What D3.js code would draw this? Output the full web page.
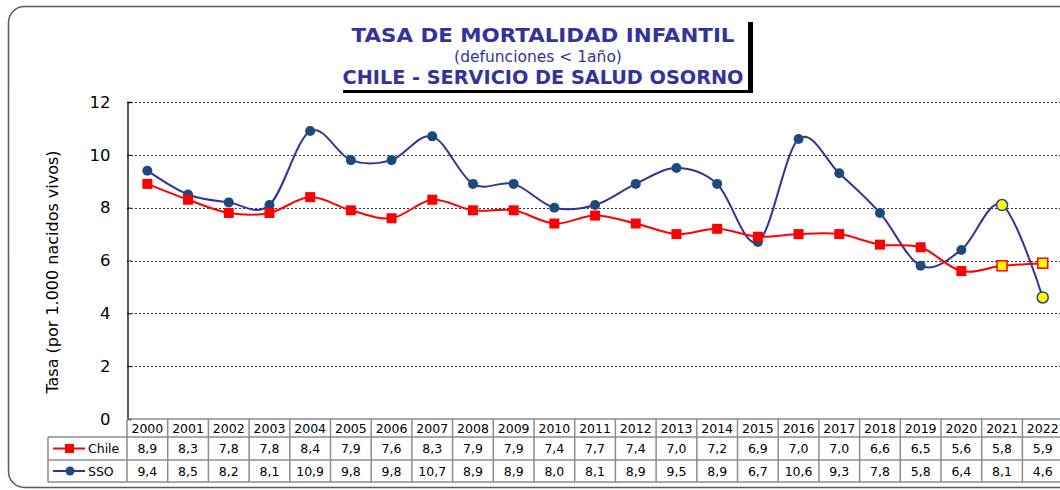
<!DOCTYPE html>
<html>
<head>
<meta charset="utf-8">
<script src="https://cdn.jsdelivr.net/npm/d3@7"></script>
<style>
  body { margin: 0; background: #fff; }
  svg { display: block; font-family: "DejaVu Sans", Verdana, sans-serif; }
</style>
</head>
<body>
<svg id="chart"></svg>
<script>
var width = 1060;
var height = 490;

// datos
var years = ["2000","2001","2002","2003","2004","2005","2006","2007","2008","2009","2010","2011",
             "2012","2013","2014","2015","2016","2017","2018","2019","2020","2021","2022"];
var chile = [8.9, 8.3, 7.8, 7.8, 8.4, 7.9, 7.6, 8.3, 7.9, 7.9, 7.4, 7.7, 7.4, 7.0, 7.2, 6.9, 7.0, 7.0, 6.6, 6.5, 5.6, 5.8, 5.9];
var sso   = [9.4, 8.5, 8.2, 8.1, 10.9, 9.8, 9.8, 10.7, 8.9, 8.9, 8.0, 8.1, 8.9, 9.5, 8.9, 6.7, 10.6, 9.3, 7.8, 5.8, 6.4, 8.1, 4.6];
var yTicks = [0, 2, 4, 6, 8, 10, 12];
var highlightYears = ["2021", "2022"];

var plotLeft = 127;
var colW = 40.7;
var plotTop = 102;
var plotBottom = 419;

var svg = d3.select("#chart")
    .attr("width", width)
    .attr("height", height);

// marco exterior
svg.append("rect")
    .attr("x", 8.5).attr("y", 6.5)
    .attr("width", 1120).attr("height", 481)
    .attr("rx", 16).attr("ry", 16)
    .attr("fill", "none")
    .attr("stroke", "#5a5a5a")
    .attr("stroke-width", 1.5);

// escalas
var x_scale = d3.scaleBand()
    .domain(years)
    .range([plotLeft, plotLeft + colW * years.length]);

var y_scale = d3.scaleLinear()
    .domain([0, 12])
    .range([plotBottom, plotTop]);

function cx(i) { return x_scale(years[i]) + x_scale.bandwidth() / 2; }

// grilla
svg.append("g")
    .selectAll("line")
    .data(yTicks.filter(function (d) { return d > 0; }))
    .join("line")
    .attr("x1", plotLeft).attr("x2", width)
    .attr("y1", function (d) { return Math.round(y_scale(d)) + 0.5; })
    .attr("y2", function (d) { return Math.round(y_scale(d)) + 0.5; })
    .attr("stroke", "#333")
    .attr("stroke-width", 1)
    .attr("stroke-dasharray", "2,2");

// eje Y
var y_axis = d3.axisLeft(y_scale).tickValues(yTicks).tickSize(-4).tickPadding(17);
var yg = svg.append("g")
    .attr("transform", "translate(" + (plotLeft + 0.5) + ",0)")
    .call(y_axis);
yg.select(".domain").attr("stroke", "#000").attr("stroke-width", 1.3);
yg.selectAll(".tick line").attr("stroke", "#000");
yg.selectAll(".tick text")
    .style("font-size", "16.5px")
    .style("font-family", "DejaVu Sans, sans-serif")
    .attr("fill", "#000");

svg.append("text")
    .text("Tasa (por 1.000 nacidos vivos)")
    .attr("transform", "translate(58,272) rotate(-90)")
    .attr("text-anchor", "middle")
    .style("font-size", "16px")
    .attr("fill", "#000");

// lineas
var lineChile = d3.line()
    .x(function (d, i) { return cx(i); })
    .y(function (d) { return y_scale(d); })
    .curve(d3.curveCardinal.tension(0));

svg.append("path")
    .attr("d", lineChile(sso))
    .attr("fill", "none")
    .attr("stroke", "#333399")
    .attr("stroke-width", 2);

svg.append("path")
    .attr("d", lineChile(chile))
    .attr("fill", "none")
    .attr("stroke", "#ff0000")
    .attr("stroke-width", 2);

// marcadores SSO
svg.append("g")
    .selectAll("circle")
    .data(sso)
    .join("circle")
    .attr("cx", function (d, i) { return cx(i); })
    .attr("cy", function (d) { return y_scale(d); })
    .attr("r", function (d, i) { return highlightYears.indexOf(years[i]) >= 0 ? 5.5 : 5; })
    .attr("fill", function (d, i) { return highlightYears.indexOf(years[i]) >= 0 ? "#ffff00" : "#1f497d"; })
    .attr("stroke", function (d, i) { return highlightYears.indexOf(years[i]) >= 0 ? "#1f497d" : "none"; })
    .attr("stroke-width", 1.5);

// marcadores Chile
svg.append("g")
    .selectAll("rect")
    .data(chile)
    .join("rect")
    .attr("x", function (d, i) { return cx(i) - 5; })
    .attr("y", function (d) { return y_scale(d) - 5; })
    .attr("width", 10).attr("height", 10)
    .attr("fill", function (d, i) { return highlightYears.indexOf(years[i]) >= 0 ? "#ffff00" : "#ff0000"; })
    .attr("stroke", function (d, i) { return highlightYears.indexOf(years[i]) >= 0 ? "#ff0000" : "none"; })
    .attr("stroke-width", 1.5);

// tabla de datos
var rowTops = [419, 437, 460, 482];
var tableRight = plotLeft + colW * years.length;
var legendLeft = 48;
var gridCol = "#8c8c8c";
var tbl = svg.append("g");

// lineas horizontales
tbl.append("line").attr("x1", plotLeft).attr("x2", tableRight)
    .attr("y1", rowTops[0]).attr("y2", rowTops[0]).attr("stroke", gridCol).attr("stroke-width", 1.5);
[1, 2, 3].forEach(function (k) {
    tbl.append("line").attr("x1", legendLeft).attr("x2", tableRight)
        .attr("y1", rowTops[k]).attr("y2", rowTops[k]).attr("stroke", gridCol).attr("stroke-width", 1.5);
});
// lineas verticales
tbl.append("line").attr("x1", legendLeft).attr("x2", legendLeft)
    .attr("y1", rowTops[1]).attr("y2", rowTops[3]).attr("stroke", gridCol).attr("stroke-width", 1.5);
tbl.selectAll("line.v")
    .data(years)
    .join("line")
    .attr("class", "v")
    .attr("x1", function (d) { return x_scale(d); })
    .attr("x2", function (d) { return x_scale(d); })
    .attr("y1", rowTops[0]).attr("y2", rowTops[3])
    .attr("stroke", gridCol).attr("stroke-width", 1.5);

function fmt(v) { return v.toFixed(1).replace(".", ","); }

var rows = [
    { vals: years, y: (rowTops[0] + rowTops[1]) / 2, f: function (d) { return d; } },
    { vals: chile, y: (rowTops[1] + rowTops[2]) / 2, f: fmt },
    { vals: sso, y: (rowTops[2] + rowTops[3]) / 2, f: fmt }
];
rows.forEach(function (r) {
    tbl.append("g").selectAll("text")
        .data(r.vals)
        .join("text")
        .attr("x", function (d, i) { return cx(i); })
        .attr("y", r.y)
        .attr("dy", "0.36em")
        .attr("text-anchor", "middle")
        .style("font-size", "12.5px")
        .attr("fill", "#000")
        .text(r.f);
});

// leyenda
var legY1 = (rowTops[1] + rowTops[2]) / 2;
var legY2 = (rowTops[2] + rowTops[3]) / 2;
tbl.append("line").attr("x1", 53).attr("x2", 85).attr("y1", legY1).attr("y2", legY1)
    .attr("stroke", "#ff0000").attr("stroke-width", 2);
tbl.append("rect").attr("x", 65).attr("y", legY1 - 4.5).attr("width", 9).attr("height", 9).attr("fill", "#ff0000");
tbl.append("text").attr("x", 88).attr("y", legY1).attr("dy", "0.36em")
    .style("font-size", "12.5px").text("Chile");
tbl.append("line").attr("x1", 53).attr("x2", 85).attr("y1", legY2).attr("y2", legY2)
    .attr("stroke", "#333399").attr("stroke-width", 2);
tbl.append("circle").attr("cx", 70).attr("cy", legY2).attr("r", 4.5).attr("fill", "#1f497d");
tbl.append("text").attr("x", 88).attr("y", legY2).attr("dy", "0.36em")
    .style("font-size", "12.5px").text("SSO");

// titulo
var tg = svg.append("g");
tg.append("rect").attr("x", 343).attr("y", 22).attr("width", 410).attr("height", 71).attr("fill", "#000");
tg.append("rect").attr("x", 340).attr("y", 18).attr("width", 408).attr("height", 72).attr("fill", "#fff");
var titleColor = "#333399";
tg.append("text").text("TASA DE MORTALIDAD INFANTIL")
    .attr("x", 543).attr("y", 42).attr("text-anchor", "middle")
    .attr("textLength", 383).attr("lengthAdjust", "spacingAndGlyphs")
    .style("font-size", "20px").style("font-weight", "bold").attr("fill", titleColor);
tg.append("text").text("(defunciones < 1año)")
    .attr("x", 538).attr("y", 62).attr("text-anchor", "middle")
    .style("font-size", "15.5px").attr("fill", titleColor);
tg.append("text").text("CHILE - SERVICIO DE SALUD OSORNO")
    .attr("x", 543).attr("y", 84).attr("text-anchor", "middle")
    .attr("textLength", 401).attr("lengthAdjust", "spacingAndGlyphs")
    .style("font-size", "20px").style("font-weight", "bold").attr("fill", titleColor);
</script>
</body>
</html>
